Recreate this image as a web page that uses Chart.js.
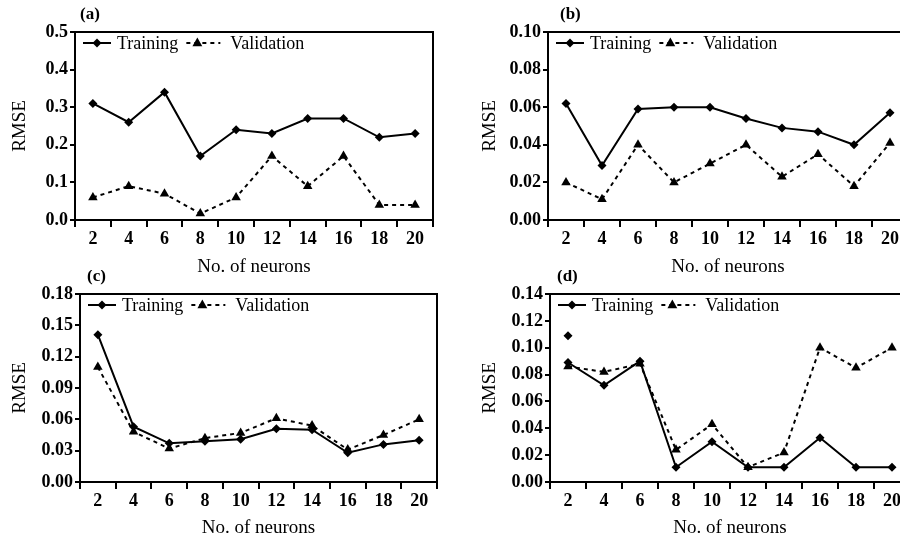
<!DOCTYPE html>
<html>
<head>
<meta charset="utf-8">
<script src="https://cdn.jsdelivr.net/npm/chart.js@4.4.1/dist/chart.umd.min.js"></script>
<style>
    html, body { margin: 0; padding: 0; background: #fff; overflow: hidden; width: 900px; height: 541px; }
    .panel { position: absolute; }
</style>
</head>
<body>
<div class="panel" style="left:0;top:0"><canvas id="chartA" width="445" height="285"></canvas></div>
<div class="panel" style="left:450px;top:0"><canvas id="chartB" width="470" height="285"></canvas></div>
<div class="panel" style="left:0;top:270px"><canvas id="chartC" width="445" height="271"></canvas></div>
<div class="panel" style="left:450px;top:270px"><canvas id="chartD" width="470" height="271"></canvas></div>
<script>
// x categories (number of neurons)
const neurons = ['2', '4', '6', '8', '10', '12', '14', '16', '18', '20'];

// (a)
const aTraining   = [0.31, 0.26, 0.34, 0.17, 0.24, 0.23, 0.27, 0.27, 0.22, 0.23];
const aValidation = [0.06, 0.09, 0.07, 0.017, 0.06, 0.17, 0.09, 0.17, 0.04, 0.04];
// (b)
const bTraining   = [0.062, 0.029, 0.059, 0.060, 0.060, 0.054, 0.049, 0.047, 0.040, 0.057];
const bValidation = [0.020, 0.011, 0.040, 0.020, 0.030, 0.040, 0.023, 0.035, 0.018, 0.041];
// (c)
const cTraining   = [0.141, 0.053, 0.037, 0.039, 0.041, 0.051, 0.050, 0.028, 0.036, 0.040];
const cValidation = [0.110, 0.048, 0.032, 0.042, 0.047, 0.061, 0.054, 0.031, 0.045, 0.060];
// (d)
const dTraining   = [0.089, 0.072, 0.090, 0.011, 0.030, 0.011, 0.011, 0.033, 0.011, 0.011];
const dValidation = [0.086, 0.082, 0.088, 0.024, 0.043, 0.011, 0.022, 0.100, 0.085, 0.100];
const dTrainingMark = [0.109, null, null, null, null, null, null, null, null, null];

// y axis ranges: [max, step, decimals]
const aRange = [0.5, 0.1, 1];
const bRange = [0.10, 0.02, 2];
const cRange = [0.18, 0.03, 2];
const dRange = [0.14, 0.02, 2];

const FONT = "'Liberation Serif', 'Times New Roman', serif";
Chart.defaults.font.family = FONT;
Chart.defaults.color = '#000';

// Marker helpers
function drawDiamond(ctx, x, y, r) {
    ctx.beginPath();
    ctx.moveTo(x, y - r); ctx.lineTo(x + r, y); ctx.lineTo(x, y + r); ctx.lineTo(x - r, y);
    ctx.closePath();
    ctx.fill();
}
function drawTriangle(ctx, x, y, r) {
    ctx.beginPath();
    ctx.moveTo(x, y - r); ctx.lineTo(x + r * 0.9, y + r * 0.6); ctx.lineTo(x - r * 0.9, y + r * 0.6);
    ctx.closePath();
    ctx.fill();
}

// Frame, panel label and the line+marker legend
const panelDecor = {
    id: 'panelDecor',
    afterDraw(chart, args, opts) {
        const ctx = chart.ctx;
        const a = chart.chartArea;
        ctx.save();
        ctx.strokeStyle = '#000';
        ctx.lineWidth = 2;
        ctx.beginPath();
        ctx.moveTo(a.left, a.top);
        ctx.lineTo(a.right, a.top);
        ctx.lineTo(a.right, a.bottom);
        ctx.stroke();

        // panel label
        ctx.fillStyle = '#000';
        ctx.font = 'bold 17px ' + FONT;
        ctx.textBaseline = 'middle';
        ctx.textAlign = 'left';
        ctx.fillText(opts.label, a.left + opts.labelDx, a.top - 17);

        // legend
        const y = a.top + 11;
        let x = a.left + 8;
        ctx.font = '18px ' + FONT;
        ctx.lineWidth = 2;
        ctx.setLineDash([]);
        ctx.beginPath(); ctx.moveTo(x, y); ctx.lineTo(x + 28, y); ctx.stroke();
        drawDiamond(ctx, x + 14, y, 4.5);
        x += 34;
        ctx.fillText(chart.data.datasets[0].label, x, y + 1);
        x += ctx.measureText(chart.data.datasets[0].label).width + 8;
        ctx.setLineDash([4, 4]);
        ctx.beginPath(); ctx.moveTo(x, y); ctx.lineTo(x + 34, y); ctx.stroke();
        ctx.setLineDash([]);
        drawTriangle(ctx, x + 11, y, 5.5);
        x += 44;
        ctx.fillText(chart.data.datasets[1].label, x, y + 1);
        ctx.restore();
    }
};

const Panels = {
    instances: {},

    make: function(canvasId, cfg) {
        const ctx = document.getElementById(canvasId);
        const datasets = [
            {
                label: 'Training',
                data: cfg.training,
                borderColor: '#000',
                backgroundColor: '#000',
                borderWidth: 2,
                pointStyle: 'rectRot',
                pointRadius: 4.5,
                pointBorderWidth: 0,
                tension: 0
            },
            {
                label: 'Validation',
                data: cfg.validation,
                borderColor: '#000',
                backgroundColor: '#000',
                borderWidth: 2,
                borderDash: [4, 4],
                pointStyle: 'triangle',
                pointRadius: 5.5,
                pointBorderWidth: 0,
                tension: 0
            }
        ];
        if (cfg.extra) {
            datasets.push({
                label: 'Training ',
                data: cfg.extra,
                showLine: false,
                borderColor: '#000',
                backgroundColor: '#000',
                pointStyle: 'rectRot',
                pointRadius: 4.5,
                pointBorderWidth: 0
            });
        }
        const [yMax, yStep, dec] = cfg.range;

        this.instances[canvasId] = new Chart(ctx, {
            type: 'line',
            data: { labels: neurons, datasets: datasets },
            plugins: [panelDecor],
            options: {
                responsive: false,
                animation: false,
                layout: { padding: cfg.padding },
                plugins: {
                    legend: { display: false },
                    tooltip: { enabled: false },
                    panelDecor: { label: cfg.label, labelDx: cfg.labelDx }
                },
                scales: {
                    x: {
                        offset: true,
                        grid: { offset: true, drawOnChartArea: false, drawTicks: true, tickLength: 7, color: '#000', lineWidth: 2 },
                        border: { display: true, color: '#000', width: 2 },
                        ticks: { font: { size: 18, weight: 'bold' }, padding: 2, maxRotation: 0, autoSkip: false },
                        title: { display: true, text: 'No. of neurons', font: { size: 19 }, padding: { top: 0, bottom: cfg.xTitlePad } },
                        afterFit: (s) => { s.height = cfg.xHeight; }
                    },
                    y: {
                        min: 0,
                        max: yMax,
                        grid: { drawOnChartArea: false, drawTicks: true, tickLength: 5, color: '#000', lineWidth: 2 },
                        border: { display: true, color: '#000', width: 2 },
                        ticks: {
                            stepSize: yStep,
                            font: { size: 18, weight: 'bold' },
                            padding: 2,
                            callback: (v) => Number(v).toFixed(dec)
                        },
                        title: { display: true, text: 'RMSE', font: { size: 19 }, padding: { top: cfg.yTitlePad, bottom: 0 } },
                        afterFit: (s) => { s.width = cfg.yWidth; }
                    }
                }
            }
        });
        return this.instances[canvasId];
    }
};

Panels.make('chartA', {
    label: '(a)', labelDx: 5, training: aTraining, validation: aValidation, range: aRange,
    padding: { left: 0, top: 32, right: 12, bottom: 0 }, yWidth: 75, xHeight: 65, yTitlePad: 9, xTitlePad: 7
});
Panels.make('chartB', {
    label: '(b)', labelDx: 12, training: bTraining, validation: bValidation, range: bRange,
    padding: { left: 0, top: 32, right: 12, bottom: 0 }, yWidth: 98, xHeight: 65, yTitlePad: 29, xTitlePad: 7
});
Panels.make('chartC', {
    label: '(c)', labelDx: 7, training: cTraining, validation: cValidation, range: cRange,
    padding: { left: 0, top: 24, right: 8, bottom: 0 }, yWidth: 80, xHeight: 59, yTitlePad: 9, xTitlePad: 2
});
Panels.make('chartD', {
    label: '(d)', labelDx: 7, training: dTraining, validation: dValidation, range: dRange, extra: dTrainingMark,
    padding: { left: 0, top: 24, right: 10, bottom: 0 }, yWidth: 100, xHeight: 59, yTitlePad: 29, xTitlePad: 2
});
</script>
</body>
</html>
